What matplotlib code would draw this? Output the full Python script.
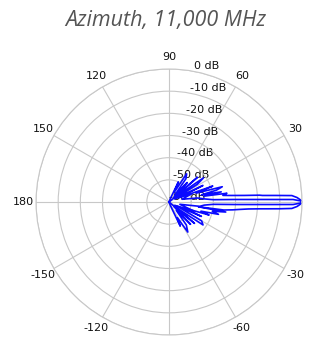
"""
Azimuth radiation pattern (11,000 MHz) in polar dB scale
"""

import matplotlib
matplotlib.use('Agg')
import matplotlib.pyplot as plt
import numpy as np

# two sweeps: angle (deg) -> level (dB), clipped at -60
SWEEP_A_DEG = [
    -90, -72, -68, -65, -62, -58, -53, -49, -46, -43, -40, -37, -34, -30,
    -27, -24, -21, -18, -16, -14, -12, -10, -9.2, -8.3, -7, -6, -5, -4.3,
    -4, -3.5, -3, -2, -1, 0,
    1, 2, 3, 3.5, 4, 4.3, 5, 6, 7, 8.6, 9.5, 11, 12.5, 14, 16, 18,
    20, 23, 26, 29, 32, 35, 38, 41, 44, 47, 50, 54, 58, 62, 65, 68, 72, 90,
]
SWEEP_A_DB = [
    -60, -60, -58, -48, -52, -44, -47, -55, -46, -57, -45, -55, -41.5, -43,
    -56, -44, -52, -41, -45, -37, -40, -34, -46.6, -35, -31, -28, -24, -19,
    -16, -10, -4.5, -2.2, -0.8, 0.0,
    -0.8, -2.2, -4.5, -11.6, -17.7, -19, -26, -31.8, -35.5, -33.6, -44, -36, -45, -38, -35, -47,
    -39, -55, -43, -57, -45, -41, -56, -43, -57, -48, -56, -47, -45, -55, -50, -58,
    -60, -60,
]
SWEEP_B_DEG = [
    -60, -40, -30, -20, -12, -8, -5, -3, -2.2, -1.5, -1.15, -0.5, 0,
    0.5, 1.15, 1.5, 2.2, 3, 5, 8, 12, 20, 30, 40, 60,
]
SWEEP_B_DB = [
    -60, -52, -57, -48, -55, -46, -44, -40, -30.5, -16.6, -4, -0.8, 0.0,
    -0.8, -4, -16.6, -30.5, -40, -44, -47, -54, -49, -57, -52, -60,
]

RMIN, RMAX = -60, 0
R_TICKS = [-60, -50, -40, -30, -20, -10, 0]
THETA_TICKS = [0, 30, 60, 90, 120, 150, 180, 210, 240, 300, 330]
THETA_LABELS = ['0', '30', '60', '90', '120', '150', '180',
                '-150', '-120', '-60', '-30']

plt.rcParams['font.family'] = ['DejaVu Sans']

fig = plt.figure(figsize=(3.12, 3.41), dpi=100)
ax = fig.add_axes([0.1154, 0.0176, 0.8526, 0.780], projection='polar')

for ang, lev in [(SWEEP_A_DEG, SWEEP_A_DB), (SWEEP_B_DEG, SWEEP_B_DB)]:
    ax.plot(np.deg2rad(ang), np.clip(lev, RMIN, RMAX), color='#0a0aff', lw=1.2)

ax.set_ylim(RMIN, RMAX)
ax.set_yticks(R_TICKS)
ax.set_yticklabels([f'{v} dB' for v in R_TICKS], fontsize=8, color='#111111')
ax.set_rlabel_position(79)
ax.set_xticks(np.deg2rad(THETA_TICKS))
ax.set_xticklabels(THETA_LABELS, fontsize=8, color='#111111')
ax.tick_params(axis='x', pad=-1.5)
ax.grid(color='#c8c8c8', lw=0.8)
ax.spines['polar'].set_color('#c8c8c8')
ax.spines['polar'].set_linewidth(0.8)
# keep the -90 spoke of the grid even without a label
ax.plot([np.deg2rad(270)] * 2, [RMIN, RMAX], color='#c8c8c8', lw=0.8, zorder=0)

fig.text(0.53, 0.924, 'Azimuth, 11,000 MHz', ha='center', va='baseline',
         fontsize=15.5, style='italic', color='#555555',
         family=['Open Sans', 'DejaVu Sans'])

fig.savefig('out.png', dpi=100)
plt.close(fig)
